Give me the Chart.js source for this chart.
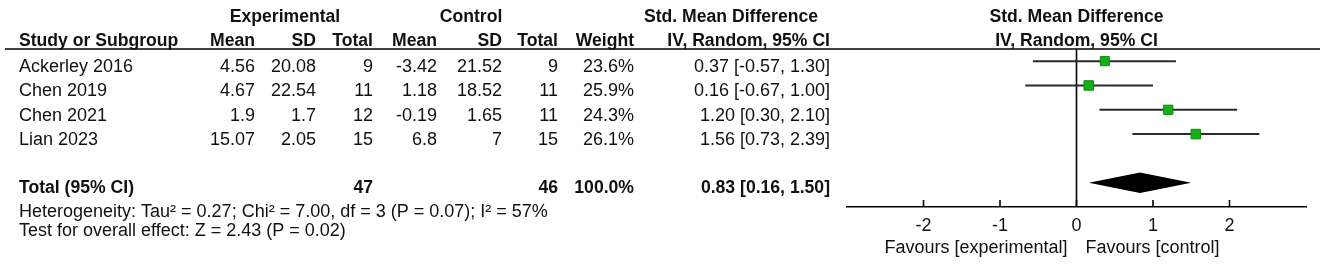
<!DOCTYPE html>
<html><head><meta charset="utf-8">
<script src="https://cdn.jsdelivr.net/npm/chart.js@4.4.1/dist/chart.umd.min.js"></script>
<style>html,body{margin:0;padding:0;background:#fff;overflow:hidden}#wrap{width:1325px;height:265px;position:relative}</style>
</head><body><div id="wrap"><canvas id="c" width="1325" height="265"></canvas></div>
<script>
// ---- data ----
const studies = ['Ackerley 2016', 'Chen 2019', 'Chen 2021', 'Lian 2023'];
const expMean = [4.56, 4.67, 1.9, 15.07];
const expSD = [20.08, 22.54, 1.7, 2.05];
const expN = [9, 11, 12, 15];
const ctlMean = [-3.42, 1.18, -0.19, 6.8];
const ctlSD = [21.52, 18.52, 1.65, 7];
const ctlN = [9, 11, 11, 15];
const weights = [23.6, 25.9, 24.3, 26.1];
const smd = [0.37, 0.16, 1.20, 1.56];
const ciLow = [-0.57, -0.67, 0.30, 0.73];
const ciHigh = [1.30, 1.00, 2.10, 2.39];
const totalExpN = 47;
const totalCtlN = 46;
const totalWeight = 100.0;
const totalSmd = 0.83;
const totalLow = 0.16;
const totalHigh = 1.50;
const totalRow = 5;
const xTicks = [-2, -1, 0, 1, 2];
const heterogeneity = 'Heterogeneity: Tau\u00B2 = 0.27; Chi\u00B2 = 7.00, df = 3 (P = 0.07); I\u00B2 = 57%';
const overallTest = 'Test for overall effect: Z = 2.43 (P = 0.02)';
const favLeft = 'Favours [experimental]';
const favRight = 'Favours [control]';

// ---- style ----
const FAM = '"Liberation Sans", Arial, sans-serif';
const REG = '18px ' + FAM;
const BOLD = 'bold 17.6px ' + FAM;
const TEXT = '#111';
const colRight = [255, 316, 373, 437, 502, 558, 634, 830];
const studyLeft = 19;

function fmtCI(m, l, h) { return m.toFixed(2) + ' [' + l.toFixed(2) + ', ' + h.toFixed(2) + ']'; }

const datasets = [];
studies.forEach((s, i) => {
  datasets.push({
    type: 'line', label: s + ' CI',
    data: [{x: ciLow[i], y: i}, {x: ciHigh[i], y: i}],
    borderColor: '#2b2b2b', borderWidth: 2, pointRadius: 0, fill: false, order: 2, clip: false
  });
});
datasets.push({
  type: 'scatter', label: 'SMD',
  data: smd.map((v, i) => ({x: v, y: i})),
  pointStyle: 'rect',
  pointRadius: weights.map(w => 6.6 * Math.sqrt(w / 25)),
  backgroundColor: '#14b014', borderColor: '#0b8a0b', borderWidth: 1, order: 0
});
datasets.push({
  type: 'line', label: 'zero',
  data: [{x: 0, y: -0.5}, {x: 0, y: 6}],
  borderColor: '#000', borderWidth: 1.6, pointRadius: 0, fill: false, order: 3, clip: false
});

const forestPlugin = {
  id: 'forest',
  afterDatasetsDraw(chart) {
    const ctx = chart.ctx, xs = chart.scales.x, ys = chart.scales.y;
    const yc = ys.getPixelForValue(totalRow);
    const half = Math.abs(ys.getPixelForValue(totalRow + 0.42) - yc);
    ctx.save();
    ctx.fillStyle = '#000';
    ctx.beginPath();
    ctx.moveTo(xs.getPixelForValue(totalLow), yc);
    ctx.lineTo(xs.getPixelForValue(totalSmd), yc - half);
    ctx.lineTo(xs.getPixelForValue(totalHigh), yc);
    ctx.lineTo(xs.getPixelForValue(totalSmd), yc + half);
    ctx.closePath();
    ctx.fill();
    ctx.restore();
  },
  afterDraw(chart) {
    const ctx = chart.ctx, xs = chart.scales.x, ys = chart.scales.y, ca = chart.chartArea;
    ctx.save();
    ctx.strokeStyle = '#000'; ctx.lineWidth = 1.6;
    ctx.beginPath(); ctx.moveTo(5, ca.top); ctx.lineTo(1320, ca.top); ctx.stroke();
    ctx.lineWidth = 1.6;
    xTicks.forEach(v => {
      const px = xs.getPixelForValue(v);
      ctx.beginPath(); ctx.moveTo(px, ca.bottom); ctx.lineTo(px, ca.bottom - 7); ctx.stroke();
    });
    ctx.fillStyle = TEXT;
    ctx.textBaseline = 'alphabetic';
    const t = (s, x, y, align, font) => { ctx.font = font; ctx.textAlign = align; ctx.fillText(s, x, y); };
    const h1 = 21.7, h2 = 45.7;
    t('Experimental', 285, h1, 'center', BOLD);
    t('Control', 471, h1, 'center', BOLD);
    t('Std. Mean Difference', 644, h1, 'left', BOLD);
    const pc = (ca.left + ca.right) / 2;
    t('Std. Mean Difference', pc, h1, 'center', BOLD);
    t('IV, Random, 95% CI', pc, h2, 'center', BOLD);
    t('Study or Subgroup', studyLeft, h2, 'left', BOLD);
    const hdr = ['Mean', 'SD', 'Total', 'Mean', 'SD', 'Total', 'Weight', 'IV, Random, 95% CI'];
    hdr.forEach((h, k) => t(h, colRight[k], h2, 'right', BOLD));
    studies.forEach((s, i) => {
      const b = ys.getPixelForValue(i) + 11;
      t(s, studyLeft, b, 'left', REG);
      const vals = [String(expMean[i]), String(expSD[i]), String(expN[i]), String(ctlMean[i]),
        String(ctlSD[i]), String(ctlN[i]), weights[i].toFixed(1) + '%', fmtCI(smd[i], ciLow[i], ciHigh[i])];
      vals.forEach((v, k) => t(v, colRight[k], b, 'right', REG));
    });
    const bt = ys.getPixelForValue(totalRow) + 10.7;
    t('Total (95% CI)', studyLeft, bt, 'left', BOLD);
    t(String(totalExpN), colRight[2], bt, 'right', BOLD);
    t(String(totalCtlN), colRight[5], bt, 'right', BOLD);
    t(totalWeight.toFixed(1) + '%', colRight[6], bt, 'right', BOLD);
    t(fmtCI(totalSmd, totalLow, totalHigh), colRight[7], bt, 'right', BOLD);
    t(heterogeneity, studyLeft, 216.5, 'left', REG);
    t(overallTest, studyLeft, 235.5, 'left', REG);
    const z = xs.getPixelForValue(0);
    t(favLeft, z - 9, 252.7, 'right', REG);
    t(favRight, z + 9, 252.7, 'left', REG);
    ctx.restore();
  }
};

new Chart(document.getElementById('c'), {
  data: { datasets },
  options: {
    responsive: false, animation: false,
    layout: { padding: { left: 847, right: 19, top: 49, bottom: 0 } },
    plugins: { legend: { display: false }, tooltip: { enabled: false } },
    scales: {
      x: {
        type: 'linear', position: 'bottom', min: -3, max: 3,
        afterBuildTicks: s => { s.ticks = xTicks.map(v => ({ value: v })); },
        afterFit: s => { s.height = 58; },
        grid: { display: false, drawTicks: false },
        border: { display: true, color: '#000', width: 1.6 },
        ticks: { color: TEXT, font: { family: FAM, size: 18 }, padding: 8, autoSkip: false, maxRotation: 0,
          callback: v => String(v) }
      },
      y: { type: 'linear', min: -0.5, max: 6, reverse: true, display: false }
    }
  },
  plugins: [forestPlugin]
});
</script>
</body></html>
